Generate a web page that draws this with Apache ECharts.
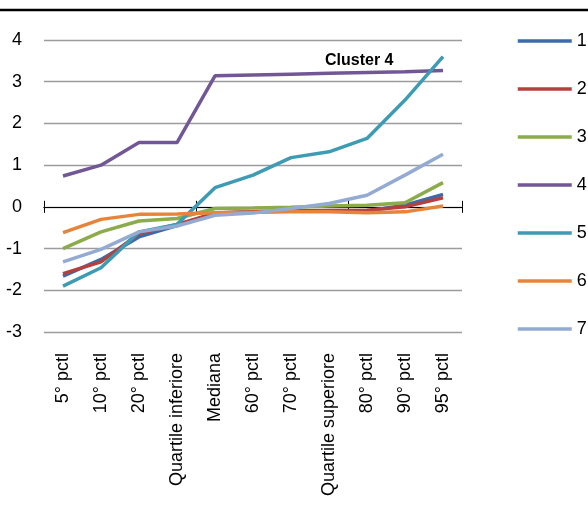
<!DOCTYPE html>
<html>
<head>
<meta charset="UTF-8">
<title>Cluster 4</title>
<script src="https://cdn.jsdelivr.net/npm/echarts@6/dist/echarts.min.js"></script>
<style>
    html,body{margin:0;padding:0;background:#fff}
    #main{width:588px;height:511px}
</style>
</head>
<body>
<div id="main"></div>
<script>
// categorie (percentili)
var categories = ['5° pctl', '10° pctl', '20° pctl', 'Quartile inferiore', 'Mediana', '60° pctl',
    '70° pctl', 'Quartile superiore', '80° pctl', '90° pctl', '95° pctl'];
var seriesNames = ['1', '2', '3', '4', '5', '6', '7'];
var s1 = [-1.66, -1.26, -0.72, -0.45, -0.15, -0.12, -0.10, -0.10, -0.10, 0.04, 0.30];
var s2 = [-1.60, -1.32, -0.64, -0.42, -0.15, -0.12, -0.10, -0.09, -0.08, 0.00, 0.22];
var s3 = [-1.00, -0.60, -0.34, -0.28, -0.04, -0.03, -0.01, 0.02, 0.04, 0.10, 0.58];
var s4 = [0.74, 1.00, 1.54, 1.54, 3.14, 3.16, 3.18, 3.20, 3.22, 3.24, 3.27];
var s5 = [-1.90, -1.46, -0.60, -0.42, 0.46, 0.76, 1.18, 1.32, 1.64, 2.56, 3.60];
var s6 = [-0.62, -0.30, -0.18, -0.17, -0.14, -0.13, -0.12, -0.12, -0.14, -0.12, 0.02];
var s7 = [-1.32, -1.02, -0.60, -0.46, -0.20, -0.15, -0.04, 0.08, 0.28, 0.76, 1.26];
var colors = ['#3d6aab', '#b5403e', '#8cab4b', '#725797', '#3d9bb4', '#e8843a', '#93abd3'];

var font = '"Liberation Sans", Arial, sans-serif';
var allData = [s1, s2, s3, s4, s5, s6, s7];

var seriesArr = [];
for (var i = 0; i < allData.length; i++) {
    seriesArr.push({
        name: seriesNames[i],
        type: 'line',
        xAxisIndex: 0,
        yAxisIndex: 0,
        data: allData[i],
        symbol: 'none',
        lineStyle: {width: 3.5, color: colors[i]},
        itemStyle: {color: colors[i]}
    });
}

var gridBox = {left: 44, right: 126, top: 40, bottom: 179};

var myChart = echarts.init(document.getElementById('main'));
var option = {
    animation: false,
    backgroundColor: '#fff',
    title: {
        text: 'Cluster 4',
        left: 320,
        top: 48,
        textStyle: {fontFamily: font, fontSize: 16, fontWeight: 'bold', color: '#000'}
    },
    legend: {
        orient: 'vertical',
        left: 516,
        top: 32,
        padding: 0,
        itemWidth: 54,
        itemHeight: 14,
        itemGap: 30,
        data: seriesNames,
        itemStyle: {opacity: 0},
        lineStyle: {width: 3.5},
        textStyle: {fontFamily: font, fontSize: 18, color: '#000'}
    },
    // secondo grid identico, solo per le tacche verso l'alto
    grid: [gridBox, gridBox],
    xAxis: [{
        gridIndex: 0,
        type: 'category',
        data: categories,
        boundaryGap: true,
        axisLine: {onZero: true, lineStyle: {color: '#000', width: 1}},
        axisTick: {show: true, inside: false, length: 6, lineStyle: {color: '#000'}},
        axisLabel: {show: false},
        splitLine: {show: false}
    }, {
        gridIndex: 0,
        type: 'category',
        data: categories,
        position: 'bottom',
        boundaryGap: true,
        axisLine: {show: false, onZero: false},
        axisTick: {show: false},
        axisLabel: {
            rotate: 90,
            margin: 21,
            fontFamily: font,
            fontSize: 18,
            color: '#000',
            interval: 0
        }
    }, {
        gridIndex: 1,
        type: 'category',
        data: categories,
        boundaryGap: true,
        axisLine: {onZero: true, lineStyle: {color: '#000', width: 1}},
        axisTick: {show: true, inside: true, length: 6, lineStyle: {color: '#000'}},
        axisLabel: {show: false},
        splitLine: {show: false}
    }],
    yAxis: [{
        gridIndex: 0,
        type: 'value',
        min: -3,
        max: 4,
        interval: 1,
        axisLine: {show: false},
        axisTick: {show: false},
        axisLabel: {margin: 22, fontFamily: font, fontSize: 18, color: '#000'},
        splitLine: {lineStyle: {color: '#9c9c9c', width: 1.3}}
    }, {
        gridIndex: 1,
        type: 'value',
        min: -3,
        max: 4,
        interval: 1,
        axisLine: {show: false},
        axisTick: {show: false},
        axisLabel: {show: false},
        splitLine: {show: false}
    }],
    graphic: [{
        type: 'line',
        shape: {x1: 0, y1: 10, x2: 588, y2: 10},
        style: {stroke: '#000', lineWidth: 2.5}
    }],
    series: seriesArr
};
myChart.setOption(option);
</script>
</body>
</html>
